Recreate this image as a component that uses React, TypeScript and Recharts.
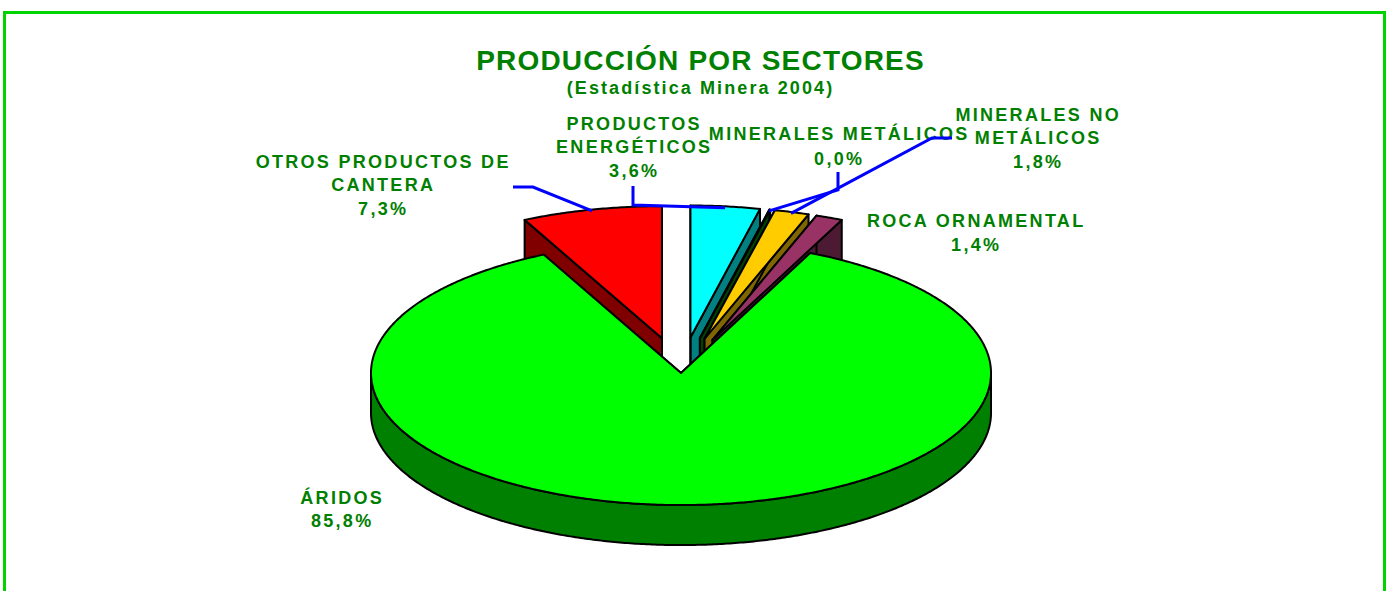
import React from 'react';
import { PieChart, Pie, Cell } from 'recharts';

// Estadística Minera 2004 – producción por sectores (%)
const NAMES = [
  'PRODUCTOS ENERGÉTICOS',
  'MINERALES METÁLICOS',
  'MINERALES NO METÁLICOS',
  'ROCA ORNAMENTAL',
  'ÁRIDOS',
  'OTROS PRODUCTOS DE CANTERA',
];
const SHARES = [3.6, 0.04, 1.8, 1.4, 85.8, 7.3];
const LABEL_LINES = [
  ['PRODUCTOS', 'ENERGÉTICOS'],
  ['MINERALES METÁLICOS'],
  ['MINERALES NO', 'METÁLICOS'],
  ['ROCA ORNAMENTAL'],
  ['ÁRIDOS'],
  ['OTROS PRODUCTOS DE', 'CANTERA'],
];

const TOP_COLORS = ['#00FFFF', '#008000', '#FFCC00', '#993366', '#00FF00', '#FF0000'];
const SIDE_COLORS = ['#008080', '#004000', '#806600', '#4D1A33', '#008000', '#800000'];
const EXPLODED = new Set(NAMES.filter((n) => n !== 'ÁRIDOS'));

// label placement: x centre, baselines, elbow points of the blue leader
const LABEL_LAYOUT: { x: number; y: number[]; leader?: number[][] }[] = [
  { x: 633, y: [130, 153, 177], leader: [[633, 186], [633, 205]] },
  { x: 838, y: [140, 165], leader: [[838, 172], [838, 190]] },
  { x: 1037, y: [121, 144, 168], leader: [[952, 138], [932, 138]] },
  { x: 975, y: [227, 251] },
  { x: 341, y: [504, 527] },
  { x: 382, y: [168, 191, 215], leader: [[513, 187], [533, 187]] },
];

const data = NAMES.map((name, i) => ({ name, value: SHARES[i] }));

const K = 0.426; // vertical squash of the tilted disc
const DEPTH = 40;
const EXPLODE = 0.27;
const RAD = Math.PI / 180;
const GREEN = '#008000';
const FONT = '"Liberation Sans", Arial, sans-serif';

const pct = (v: number) => v.toFixed(1).replace('.', ',') + '%';
const toPath = (pts: number[][]) =>
  'M' + pts.map((p) => `${p[0].toFixed(2)},${p[1].toFixed(2)}`).join('L') + 'Z';

function centre(cx: number, cy: number, r: number, mid: number, name: string) {
  const e = EXPLODED.has(name) ? EXPLODE : 0;
  return [cx + e * r * Math.cos(mid * RAD), cy - e * r * K * Math.sin(mid * RAD)];
}

function makeSlice(layer: 'back' | 'front') {
  return (props: any) => {
    const { cx, cy, outerRadius: r, startAngle, endAngle, payload } = props;
    const name = payload?.name ?? props.name;
    const i = NAMES.indexOf(name);
    const isFront = name === 'ÁRIDOS';
    if ((layer === 'front') !== isFront) return <g />;
    const lo = Math.min(startAngle, endAngle);
    const hi = Math.max(startAngle, endAngle);
    const [ox, oy] = centre(cx, cy, r, (lo + hi) / 2, name);
    const P = (a: number, d = 0) => [ox + r * Math.cos(a * RAD), oy - r * K * Math.sin(a * RAD) + d];
    const steps = Math.max(2, Math.ceil((hi - lo) / 0.5));
    const angles: number[] = [];
    for (let k = 0; k <= steps; k++) angles.push(hi - ((hi - lo) * k) / steps);

    const top = [[ox, oy], ...angles.map((a) => P(a))];
    const sides = [lo, hi].map((a) => [[ox, oy], P(a), P(a, DEPTH), [ox, oy + DEPTH]]);
    // outer rim, only where it faces the viewer
    const bands: number[][][] = [];
    let run: number[] = [];
    angles.forEach((a) => {
      if (Math.sin(a * RAD) <= 0) run.push(a);
      else if (run.length) {
        bands.push([...run.map((b) => P(b)), ...run.slice().reverse().map((b) => P(b, DEPTH))]);
        run = [];
      }
    });
    if (run.length > 1)
      bands.push([...run.map((b) => P(b)), ...run.slice().reverse().map((b) => P(b, DEPTH))]);

    const st = { stroke: '#000', strokeWidth: 2, strokeLinejoin: 'round' as const };
    return (
      <g>
        {sides.map((s, k) => (
          <path key={'s' + k} d={toPath(s)} fill={SIDE_COLORS[i]} {...st} />
        ))}
        {bands.map((b, k) => (
          <path key={'b' + k} d={toPath(b)} fill={SIDE_COLORS[i]} {...st} />
        ))}
        <path d={toPath(top)} fill={TOP_COLORS[i]} {...st} />
      </g>
    );
  };
}

const renderLabel = (props: any) => {
  const { cx, cy, midAngle, outerRadius: r, payload } = props;
  const name = payload?.name ?? props.name;
  const i = NAMES.indexOf(name);
  const lay = LABEL_LAYOUT[i];
  const [ox, oy] = centre(cx, cy, r, midAngle, name);
  const anchor = [ox + r * 0.99 * Math.cos(midAngle * RAD), oy - r * 0.99 * K * Math.sin(midAngle * RAD)];
  const lines = [...LABEL_LINES[i], pct(SHARES[i])];
  return (
    <g key={'lab' + i}>
      {lay.leader && (
        <polyline
          points={[...lay.leader, anchor].map((p) => p.join(',')).join(' ')}
          fill="none"
          stroke="#0000FF"
          strokeWidth={3}
        />
      )}
      {lines.map((t, k) => (
        <text
          key={k}
          x={lay.x + 1.2}
          y={lay.y[k]}
          textAnchor="middle"
          fill={GREEN}
          fontFamily={FONT}
          fontWeight="bold"
          fontSize={18}
          letterSpacing={2.3}
        >
          {t}
        </text>
      ))}
    </g>
  );
};

export default function App() {
  return (
    <div style={{ position: 'absolute', left: 0, top: 0, width: 1388, height: 591, background: '#fff', overflow: 'hidden' }}>
      <div
        style={{
          position: 'absolute',
          left: 3,
          top: 11,
          width: 1383,
          height: 620,
          border: '3px solid #00D400',
          boxSizing: 'border-box',
        }}
      />
      <div style={{ position: 'absolute', left: 0, top: 0 }}>
        <PieChart width={1388} height={591} margin={{ top: 0, right: 0, bottom: 0, left: 0 }}>
          <Pie
            data={data}
            dataKey="value"
            nameKey="name"
            cx={681}
            cy={373}
            outerRadius={310}
            startAngle={90}
            endAngle={-270}
            stroke="none"
            shape={makeSlice('back')}
            inactiveShape={makeSlice('back')}
            activeShape={makeSlice('back')}
            isAnimationActive={false}
          >
            {data.map((d, i) => (
              <Cell key={d.name} fill={TOP_COLORS[i]} />
            ))}
          </Pie>
          <Pie
            data={data}
            dataKey="value"
            nameKey="name"
            cx={681}
            cy={373}
            outerRadius={310}
            startAngle={90}
            endAngle={-270}
            stroke="none"
            shape={makeSlice('front')}
            inactiveShape={makeSlice('front')}
            activeShape={makeSlice('front')}
            label={renderLabel}
            labelLine={false}
            isAnimationActive={false}
          >
            {data.map((d, i) => (
              <Cell key={d.name} fill={TOP_COLORS[i]} />
            ))}
          </Pie>
        </PieChart>
      </div>
      <svg width={1388} height={591} style={{ position: 'absolute', left: 0, top: 0, pointerEvents: 'none' }}>
        <text x={700.5} y={70} textAnchor="middle" fill={GREEN} fontFamily={FONT} fontWeight="bold" fontSize={28} letterSpacing={1.2}>
          PRODUCCIÓN POR SECTORES
        </text>
        <text x={700.5} y={94} textAnchor="middle" fill={GREEN} fontFamily={FONT} fontWeight="bold" fontSize={18} letterSpacing={2.1}>
          (Estadística Minera 2004)
        </text>
      </svg>
    </div>
  );
}
